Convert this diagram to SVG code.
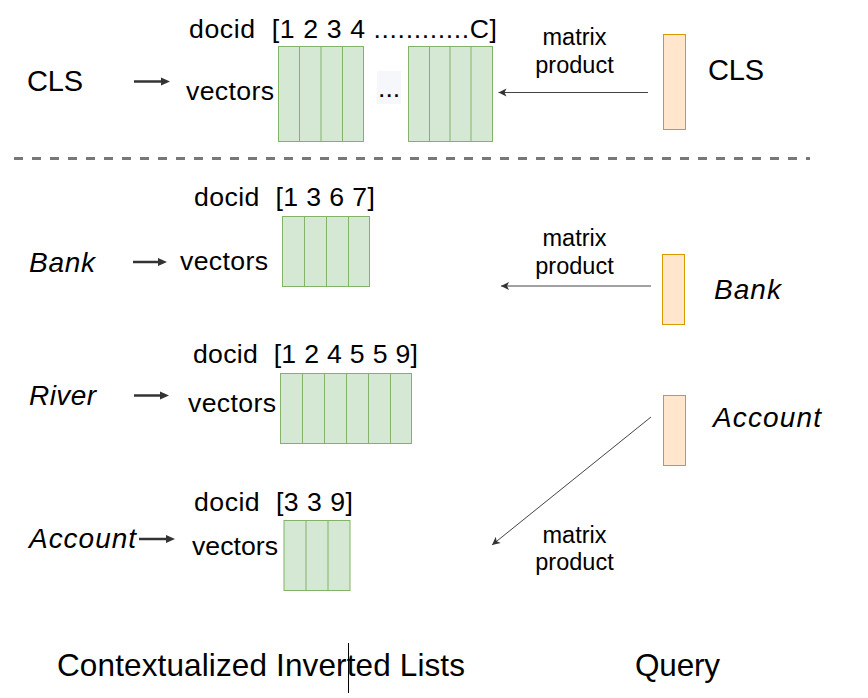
<svg xmlns="http://www.w3.org/2000/svg" width="868" height="698" viewBox="0 0 868 698">
<defs>
<style>
text{font-family:"Liberation Sans",Arial,sans-serif;fill:#000;}
.lbl{font-size:26.67px;}
.big{font-size:29px;}
.it{font-size:28px;font-style:italic;}
.mp{font-size:23.5px;text-anchor:middle;}
.ttl{font-size:31.5px;}
.g{fill:#d5e8d4;stroke:#82b366;stroke-width:1;}
.gl{stroke:#82b366;stroke-width:1;fill:none;}
.o{fill:#ffe6cc;stroke:#d79b00;stroke-width:1;}
.thick{stroke:#333;stroke-width:2.5;fill:none;marker-end:url(#ah);}
.thin{stroke:#444;stroke-width:1;fill:none;marker-end:url(#at);}
</style>
<marker id="ah" markerUnits="userSpaceOnUse" markerWidth="10" markerHeight="10" refX="2" refY="4" orient="auto" overflow="visible">
<path d="M0,0 L9,4 L0,8 Z" fill="#333"/>
</marker>
<marker id="at" markerUnits="userSpaceOnUse" markerWidth="12" markerHeight="12" refX="8" refY="4" orient="auto" overflow="visible">
<path d="M0,0 L8,4 L0,8 L2,4 Z" fill="#333"/>
</marker>
</defs>
<rect width="868" height="698" fill="#fff"/>

<!-- top CLS row -->
<g id="cls-label"><text class="big" x="27" y="91" textLength="56" lengthAdjust="spacing">CLS</text></g>
<g id="cls-docid"><text class="lbl" x="189" y="38" xml:space="preserve" textLength="308" lengthAdjust="spacing">docid  [1 2 3 4 ............C]</text></g>
<g id="cls-vectors"><text class="lbl" x="186" y="100" textLength="88" lengthAdjust="spacing">vectors</text></g>
<g id="cls-block1">
<rect class="g" x="278.5" y="46.5" width="85" height="95"/>
<path class="gl" d="M299.5,46.5V141.5M321,46.5V141.5M342.5,46.5V141.5"/>
</g>
<g id="cls-ellipsis">
<rect x="377" y="71" width="24" height="33" fill="#f5f7fa"/>
<text class="lbl" x="378" y="97">...</text>
</g>
<g id="cls-block2">
<rect class="g" x="408.5" y="46.5" width="84" height="95"/>
<path class="gl" d="M429.5,46.5V141.5M450,46.5V141.5M471,46.5V141.5"/>
</g>
<g id="cls-mp"><text class="mp" x="574.5" y="45">matrix</text><text class="mp" x="574.5" y="72.5">product</text></g>
<g id="q-cls">
<rect class="o" x="663.5" y="34.5" width="22" height="95"/>
<text class="big" x="708" y="80" textLength="56" lengthAdjust="spacing">CLS</text>
</g>

<line x1="14" y1="158.5" x2="810" y2="158.5" stroke="#777" stroke-width="3" stroke-dasharray="9 9"/>

<!-- Bank -->
<g id="bank-label"><text class="it" x="29" y="272" textLength="66" lengthAdjust="spacing">Bank</text></g>
<g id="bank-docid"><text class="lbl" x="194" y="206" xml:space="preserve" textLength="181" lengthAdjust="spacing">docid  [1 3 6 7]</text></g>
<g id="bank-vectors"><text class="lbl" x="180" y="270" textLength="88" lengthAdjust="spacing">vectors</text></g>
<g id="bank-block">
<rect class="g" x="282.5" y="216.5" width="87" height="70"/>
<path class="gl" d="M304.5,216.5V286.5M326.5,216.5V286.5M348.5,216.5V286.5"/>
</g>
<g id="bank-mp"><text class="mp" x="574.5" y="245.5">matrix</text><text class="mp" x="574.5" y="273.5">product</text></g>
<g id="q-bank">
<rect class="o" x="662.5" y="254.5" width="22" height="70"/>
<text class="it" x="714" y="299" textLength="67" lengthAdjust="spacing">Bank</text>
</g>

<!-- River -->
<g id="river-label"><text class="it" x="29" y="405" textLength="67" lengthAdjust="spacing">River</text></g>
<g id="river-docid"><text class="lbl" x="193" y="362.5" xml:space="preserve" textLength="225" lengthAdjust="spacing">docid  [1 2 4 5 5 9]</text></g>
<g id="river-vectors"><text class="lbl" x="188" y="411.5" textLength="88" lengthAdjust="spacing">vectors</text></g>
<g id="river-block">
<rect class="g" x="280.5" y="373.5" width="131" height="70"/>
<path class="gl" d="M302.5,373.5V443.5M324.5,373.5V443.5M346.5,373.5V443.5M368.5,373.5V443.5M390.5,373.5V443.5"/>
</g>

<!-- Account -->
<g id="q-account">
<rect class="o" x="663.5" y="395.5" width="22" height="70"/>
<text class="it" x="713" y="427" textLength="108" lengthAdjust="spacing">Account</text>
</g>
<g id="account-mp"><text class="mp" x="574.5" y="542.5">matrix</text><text class="mp" x="574.5" y="570">product</text></g>
<g id="account-label"><text class="it" x="29" y="548" textLength="107" lengthAdjust="spacing">Account</text></g>
<g id="account-docid"><text class="lbl" x="194" y="511" xml:space="preserve" textLength="159" lengthAdjust="spacing">docid  [3 3 9]</text></g>
<g id="account-vectors"><text class="lbl" x="192" y="555" textLength="86" lengthAdjust="spacing">vectors</text></g>
<g id="account-block">
<rect class="g" x="284" y="520.5" width="66" height="70"/>
<path class="gl" d="M306,520.5V590.5M328,520.5V590.5"/>
</g>

<!-- titles -->
<g id="title-lists"><text class="ttl" x="57" y="676" textLength="408" lengthAdjust="spacing">Contextualized Inverted Lists</text></g>
<line x1="348.5" y1="643" x2="348.5" y2="693" stroke="#000" stroke-width="1"/>
<g id="title-query"><text class="ttl" x="635" y="676" textLength="85" lengthAdjust="spacing">Query</text></g>

<g id="connectors">
<line class="thick" x1="134" y1="81.5" x2="163" y2="81.5"/>
<line class="thick" x1="133" y1="262" x2="160" y2="262"/>
<line class="thick" x1="134" y1="395.5" x2="162" y2="395.5"/>
<line class="thick" x1="139" y1="539" x2="168" y2="539"/>
<line class="thin" x1="648" y1="92.5" x2="498.5" y2="92.5"/>
<line class="thin" x1="651" y1="286" x2="501" y2="286"/>
<line class="thin" x1="651" y1="417" x2="492" y2="545"/>
</g>
</svg>
